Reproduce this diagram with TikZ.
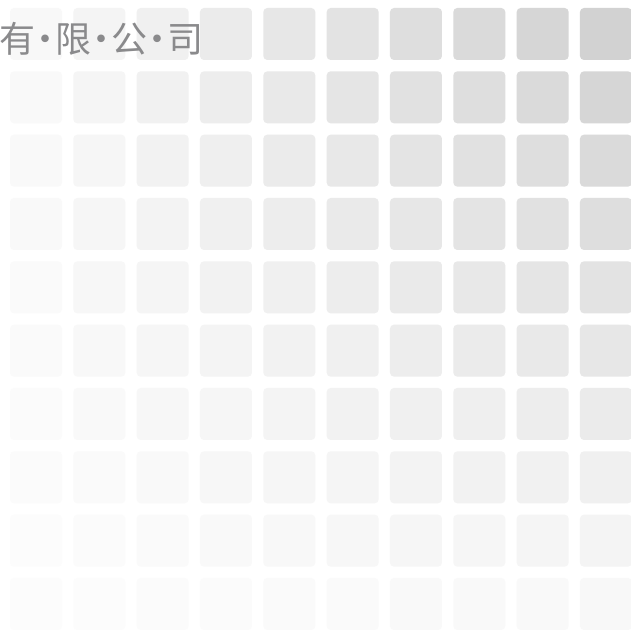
\documentclass[tikz,border=0pt]{standalone}
\usepackage{fontspec}
\newfontfamily\cjk{Noto Sans CJK SC}
\definecolor{txtgray}{RGB}{138,138,140}
\newcommand{\mydot}{\kern-8pt·\kern-8pt}
\tikzset{
  tile/.style={rounded corners=4pt, draw=none},
  title/.style={font=\cjk\fontsize{36pt}{40pt}\selectfont, text=txtgray, inner sep=0pt, anchor=west}
}
\begin{document}
\begin{tikzpicture}[x=1pt,y=1pt]
\useasboundingbox (0,0) rectangle (631,630);
\fill[white] (0,0) rectangle (631,630);
\foreach \c in {0,...,9}{
  \foreach \r in {0,...,9}{
    \pgfmathtruncatemacro{\L}{253-0.43*(\c+1)*(10-\r)}
    \definecolor{tc}{RGB}{\L,\L,\L}
    \pgfmathsetmacro{\xx}{10+63.33*\c}
    \pgfmathsetmacro{\yy}{630-8-63.33*\r}
    \fill[tile, fill=tc] (\xx,\yy) rectangle ++(52,-52);
  }
}
\node[title] (t) at (-1,591.5) {有\mydot 限\mydot 公\mydot 司};
\end{tikzpicture}
\end{document}
